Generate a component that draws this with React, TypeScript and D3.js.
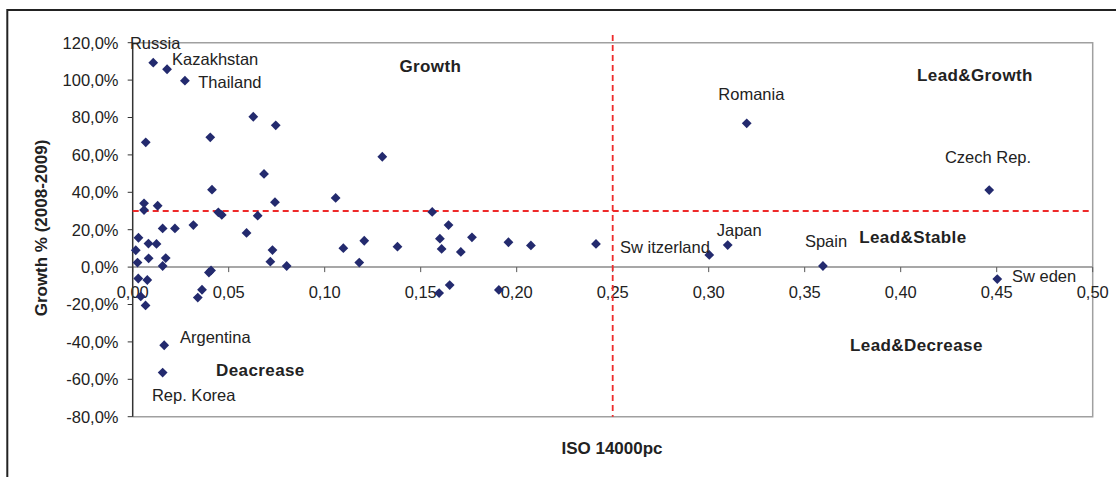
import React from "react";
import * as d3 from "d3";

// ISO 14000 per capita (x) and growth % 2008-2009 (y)
const isoShare: number[] = [
  0.0107, 0.0179, 0.0272, 0.0628, 0.0745, 0.0068, 0.0404, 0.0684, 0.0413, 0.0059,
  0.0059, 0.0130, 0.0446, 0.0464, 0.0651, 0.0156, 0.0220, 0.0316, 0.0593, 0.0030,
  0.0016, 0.0082, 0.0124, 0.0025, 0.0083, 0.0172, 0.0156, 0.0397, 0.0408, 0.0029,
  0.0076, 0.0361, 0.0339, 0.0042, 0.0067, 0.0164, 0.0156, 0.0741, 0.0728, 0.0717,
  0.0802, 0.1057, 0.1300, 0.1097, 0.1206, 0.1180, 0.1379, 0.1560, 0.1645, 0.1600,
  0.1609, 0.1709, 0.1767, 0.1957, 0.2074, 0.2413, 0.1651, 0.1596, 0.1907, 0.3003,
  0.3099, 0.3198, 0.4461, 0.3595, 0.4503,
];
const growthPct: number[] = [
  109.3, 105.8, 99.7, 80.4, 75.8, 66.7, 69.4, 49.8, 41.4, 34.1,
  30.5, 32.8, 29.3, 27.9, 27.5, 20.7, 20.7, 22.5, 18.3, 15.7,
  9.0, 12.6, 12.4, 2.4, 4.7, 4.8, 0.6, -2.9, -1.8, -6.1,
  -6.9, -12.1, -16.3, -15.7, -20.5, -41.8, -56.4, 34.7, 9.1, 2.9,
  0.6, 37.0, 59.0, 10.1, 14.1, 2.4, 10.9, 29.5, 22.5, 15.2,
  9.7, 8.1, 15.9, 13.3, 11.6, 12.4, -9.6, -13.9, -12.2, 6.5,
  11.8, 76.9, 41.2, 0.6, -6.4,
];
const countryNames: string[] = [
  "Russia", "Kazakhstan", "Thailand", "", "", "", "", "", "", "",
  "", "", "", "", "", "", "", "", "", "",
  "", "", "", "", "", "", "", "", "", "",
  "", "", "", "", "", "Argentina", "Rep. Korea", "", "", "",
  "", "", "", "", "", "", "", "", "", "",
  "", "", "", "", "", "", "", "", "", "Sw itzerland",
  "Japan", "Romania", "Czech Rep.", "Spain", "Sw eden",
];

const xTicks: number[] = [0, 0.05, 0.1, 0.15, 0.2, 0.25, 0.3, 0.35, 0.4, 0.45, 0.5];
const yTicks: number[] = [-80, -60, -40, -20, 0, 20, 40, 60, 80, 100, 120];

const quadrantNames: string[] = ["Growth", "Lead&Growth", "Lead&Stable", "Lead&Decrease", "Deacrease"];
const quadrantX: number[] = [0.1389, 0.4085, 0.3784, 0.3736, 0.0434];
const quadrantY: number[] = [104.2, 99.5, 13.0, -44.9, -58.2];

const thresholdX = 0.25;
const thresholdY = 30;

// label offsets (px) from the marker to the text start / baseline
const labelOffsets: Record<string, [number, number]> = {
  Russia: [-23.3, -13.7],
  Kazakhstan: [5, -4.3],
  Thailand: [13.3, 7],
  Romania: [-28.4, -23.3],
  "Czech Rep.": [-44.3, -26.7],
  Japan: [-11, -9.5],
  "Sw itzerland": [-89.3, -1.7],
  Spain: [-18, -19.3],
  "Sw eden": [14.7, 3.3],
  Argentina: [15.8, -1.9],
  "Rep. Korea": [-10.7, 28.5],
};

const W = 1116;
const H = 477;
const L = 132.7, R = 1092.7, T = 42.7, B = 416.7;
const FONT = "'Liberation Sans', Arial, sans-serif";
const TEXT = "#222";
const MARK = "#232a6e";

export default function App() {
  const x = d3.scaleLinear().domain([0, 0.5]).range([L, R]);
  const y = d3.scaleLinear().domain([-80, 120]).range([B, T]);
  const fmtY = (v: number) => d3.format(".1f")(v).replace(".", ",").replace("−", "-") + "%";
  const fmtX = (v: number) => d3.format(".2f")(v).replace(".", ",");
  const diamond = "M0,-4.9L4.9,0L0,4.9L-4.9,0Z";
  const y0 = y(0);

  return (
    <svg
      width={W}
      height={H}
      style={{ position: "absolute", left: 0, top: 0, background: "#fff" }}
      fontFamily={FONT}
    >
      <rect x={0} y={0} width={W} height={H} fill="#fff" />
      {/* outer frame */}
      <path d={`M7.3,${H + 5}V10H${W + 5}`} fill="none" stroke="#222" strokeWidth={2} />

      {/* plot border */}
      <path d={`M${L},${T}H${R}V${B}H${L}`} fill="none" stroke="#a0a0a0" strokeWidth={1.5} />

      {/* x axis line at y = 0 */}
      <line x1={L} x2={R} y1={y0} y2={y0} stroke="#8a8a8a" strokeWidth={1.5} />
      {xTicks.map((t) => (
        <g key={"xt" + t}>
          <line x1={x(t)} x2={x(t)} y1={y0} y2={y0 + 5} stroke="#555" strokeWidth={1} />
          <text x={x(t)} y={298.3} textAnchor="middle" fontSize={16.5} fill={TEXT}>
            {fmtX(t)}
          </text>
        </g>
      ))}

      {/* y axis */}
      <line x1={L} x2={L} y1={T} y2={B} stroke="#333" strokeWidth={1.5} />
      {yTicks.map((t) => (
        <g key={"yt" + t}>
          <line x1={L - 5} x2={L} y1={y(t)} y2={y(t)} stroke="#333" strokeWidth={1} />
          <text x={118.5} y={y(t) + 5.8} textAnchor="end" fontSize={16.5} fill={TEXT}>
            {fmtY(t)}
          </text>
        </g>
      ))}

      {/* threshold lines */}
      <line x1={L} x2={R} y1={y(thresholdY)} y2={y(thresholdY)} stroke="#ee2a2a" strokeWidth={1.8} strokeDasharray="6,4" />
      <line x1={x(thresholdX)} x2={x(thresholdX)} y1={35} y2={B} stroke="#ee2a2a" strokeWidth={1.8} strokeDasharray="6,4" />

      {/* points */}
      {isoShare.map((v, i) => (
        <path key={"p" + i} d={diamond} transform={`translate(${x(v)},${y(growthPct[i])})`} fill={MARK} />
      ))}

      {/* country labels */}
      {countryNames.map((n, i) => {
        if (!n) return null;
        const off = labelOffsets[n] || [6, 4];
        return (
          <text key={"l" + i} x={x(isoShare[i]) + off[0]} y={y(growthPct[i]) + off[1]} fontSize={16.5} fill={TEXT}>
            {n}
          </text>
        );
      })}

      {/* quadrant labels */}
      {quadrantNames.map((n, i) => (
        <text key={"q" + i} x={x(quadrantX[i])} y={y(quadrantY[i])} fontSize={17} fontWeight="bold" letterSpacing={0.4} fill={TEXT}>
          {n}
        </text>
      ))}

      {/* axis titles */}
      <text x={612} y={454} textAnchor="middle" fontSize={17} fontWeight="bold" fill={TEXT}>
        ISO 14000pc
      </text>
      <text
        transform="translate(47,228) rotate(-90)"
        textAnchor="middle"
        fontSize={17}
        fontWeight="bold"
        fill={TEXT}
      >
        Growth % (2008-2009)
      </text>
    </svg>
  );
}
